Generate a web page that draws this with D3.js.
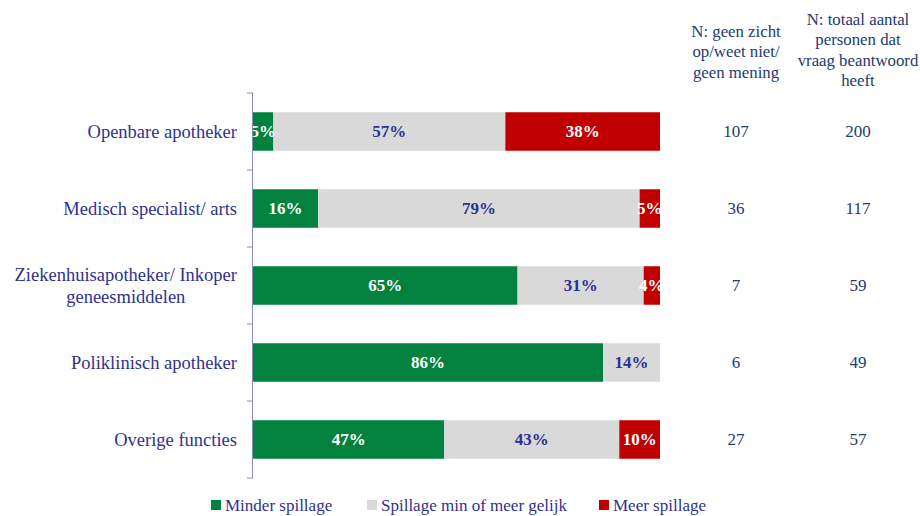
<!DOCTYPE html>
<html><head><meta charset="utf-8">
<script src="https://cdn.jsdelivr.net/npm/d3@7"></script>
<style>body{margin:0;background:#fff;}svg{display:block;} text{font-family:"Liberation Serif","Times New Roman",serif;}</style>
</head><body>
<svg id="chart" width="920" height="516"></svg>
<script>
const categories = [
  ["Openbare apotheker"],
  ["Medisch specialist/ arts"],
  ["Ziekenhuisapotheker/ Inkoper", "geneesmiddelen"],
  ["Poliklinisch apotheker"],
  ["Overige functies"]
];
const seriesNames = ["Minder spillage", "Spillage min of meer gelijk", "Meer spillage"];
const minder = [5, 16, 65, 86, 47];
const gelijk = [57, 79, 31, 14, 43];
const meer = [38, 5, 4, 0, 10];
const nGeenZicht = [107, 36, 7, 6, 27];
const nTotaal = [200, 117, 59, 49, 57];
const header1 = ["N: geen zicht", "op/weet niet/", "geen mening"];
const header2 = ["N: totaal aantal", "personen dat", "vraag beantwoord", "heeft"];

const colors = ["#03823F", "#D9D9D9", "#C00000"];
const labelColors = ["#ffffff", "#2E3192", "#ffffff"];

const svg = d3.select("#chart");
const x0 = 253, x1 = 660, yTop = 93, yBot = 478;
const x = d3.scaleLinear().domain([0, 100]).range([x0, x1]);
const y = d3.scaleBand().domain(d3.range(categories.length)).range([yTop, yBot]).paddingInner(0.5).paddingOuter(0.25);
const seriesArr = [minder, gelijk, meer];

const rows = categories.map((c, i) => {
  let acc = 0;
  return seriesArr.map((s, k) => { const d = {i, k, v: s[i], start: acc}; acc += s[i]; return d; });
});

svg.append("defs").append("clipPath").attr("id", "plotclip")
  .append("rect").attr("x", x0).attr("y", yTop).attr("width", x1 - x0).attr("height", yBot - yTop);

const g = svg.append("g").attr("clip-path", "url(#plotclip)");
const segs = rows.flat().filter(d => d.v > 0);
g.selectAll("rect.bar").data(segs).join("rect")
  .attr("x", d => x(d.start)).attr("width", d => x(d.start + d.v) - x(d.start))
  .attr("y", d => y(d.i)).attr("height", y.bandwidth())
  .attr("fill", d => colors[d.k]);
g.selectAll("text.lbl").data(segs).join("text")
  .attr("x", d => (x(d.start) + x(d.start + d.v)) / 2)
  .attr("y", d => y(d.i) + y.bandwidth() / 2)
  .attr("dy", "0.35em").attr("text-anchor", "middle")
  .attr("font-weight", "bold").attr("font-size", 17)
  .attr("fill", d => labelColors[d.k])
  .text(d => d.v + "%");

// axis
const axisColor = "#8C8CB4";
svg.append("line").attr("x1", x0 - 0.5).attr("x2", x0 - 0.5).attr("y1", yTop).attr("y2", yBot).attr("stroke", axisColor);
const step = (yBot - yTop) / categories.length;
svg.selectAll("line.tick").data(d3.range(categories.length + 1)).join("line")
  .attr("x1", x0 - 6).attr("x2", x0).attr("y1", d => yTop + d * step).attr("y2", d => yTop + d * step)
  .attr("stroke", axisColor);

// category labels
const catColor = "#2E3192";
categories.forEach((lines, i) => {
  const cy = y(i) + y.bandwidth() / 2;
  const lh = 22;
  const t = svg.append("g");
  const texts = lines.map((l, j) => t.append("text")
    .attr("y", cy + (j - (lines.length - 1) / 2) * lh).attr("dy", "0.35em")
    .attr("font-size", 18.5).attr("fill", catColor).text(l));
  const w = d3.max(texts, tt => tt.node().getComputedTextLength());
  texts.forEach(tt => tt.attr("x", 237 - w / 2).attr("text-anchor", "middle"));
});

// N columns
const nColor = "#243A73";
const col1 = 736, col2 = 858;
svg.selectAll("text.n1").data(nGeenZicht).join("text")
  .attr("x", col1).attr("y", (d, i) => y(i) + y.bandwidth() / 2).attr("dy", "0.35em")
  .attr("text-anchor", "middle").attr("font-size", 17).attr("fill", nColor).text(d => d);
svg.selectAll("text.n2").data(nTotaal).join("text")
  .attr("x", col2).attr("y", (d, i) => y(i) + y.bandwidth() / 2).attr("dy", "0.35em")
  .attr("text-anchor", "middle").attr("font-size", 17).attr("fill", nColor).text(d => d);
svg.selectAll("text.h1").data(header1).join("text")
  .attr("x", col1).attr("y", (d, i) => 31 + i * 20.5).attr("dy", "0.35em")
  .attr("text-anchor", "middle").attr("font-size", 16.8).attr("fill", nColor).text(d => d);
svg.selectAll("text.h2").data(header2).join("text")
  .attr("x", col2).attr("y", (d, i) => 19 + i * 20.5).attr("dy", "0.35em")
  .attr("text-anchor", "middle").attr("font-size", 16.8).attr("fill", nColor).text(d => d);

// legend
const legX = [211, 367, 599];
const lg = svg.selectAll("g.leg").data(seriesNames).join("g").attr("transform", (d, i) => `translate(${legX[i]},505)`);
lg.append("rect").attr("x", 0).attr("y", -5).attr("width", 10).attr("height", 10).attr("fill", (d, i) => colors[i]);
lg.append("text").attr("x", 14).attr("dy", "0.35em").attr("font-size", 17)
  .attr("fill", catColor).text(d => d);
</script>
</body></html>
